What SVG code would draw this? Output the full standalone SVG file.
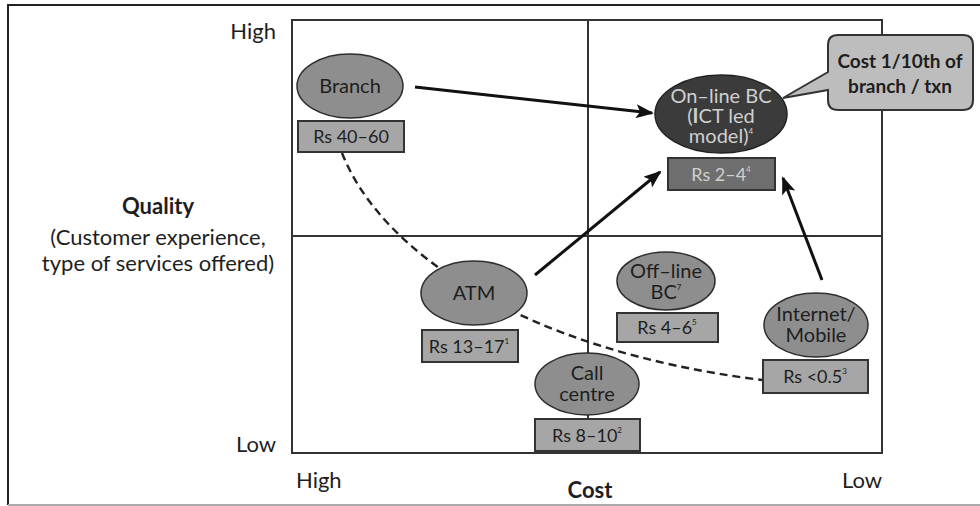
<svg xmlns="http://www.w3.org/2000/svg" width="980" height="506" viewBox="0 0 980 506">
<style>
text{font-family:Lato,"Open Sans","Liberation Sans",sans-serif;fill:#1e1e1e}
.ax{font-size:22px}
.b{font-weight:bold}
.nd{font-size:20px;text-anchor:middle}
.bx{font-size:18px;text-anchor:middle}
.el{fill:#8e8e8e;stroke:#2e2e2e;stroke-width:1.5}
.rb{fill:#a6a6a6;stroke:#333;stroke-width:2}
.sup{font-size:8px}
.ln{stroke:#333;stroke-width:2;fill:none}
.arr{stroke:#111;stroke-width:3;fill:none;marker-end:url(#ah)}
.lt{fill:#cfcfcf}
</style>
<defs>
<marker id="ah" markerUnits="userSpaceOnUse" markerWidth="18" markerHeight="14" refX="16" refY="7" orient="auto">
<path d="M0,0 L18,7 L0,14 L4,7 Z" fill="#111"/>
</marker>
</defs>
<rect width="980" height="506" fill="#fff"/>
<path d="M8,505 V5 H980" fill="none" stroke="#222" stroke-width="2"/>
<path d="M8,505 H980" fill="none" stroke="#aaa" stroke-width="2"/>

<g id="axes">
<rect x="292" y="20" width="590" height="433" class="ln" stroke-width="2.5"/>
<line x1="292" y1="236" x2="882" y2="236" class="ln"/>
<line x1="588" y1="20" x2="588" y2="453" class="ln"/>
<text class="ax" x="276" y="39" text-anchor="end">High</text>
<text class="ax" x="276" y="452" text-anchor="end">Low</text>
<text class="ax" text-anchor="middle"><tspan class="b" x="158" y="214">Quality</tspan><tspan x="158" y="245">(Customer experience,</tspan><tspan x="158" y="271">type of services offered)</tspan></text>
<text class="ax" x="296" y="488">High</text>
<text class="ax b" x="590" y="498" text-anchor="middle">Cost</text>
<text class="ax" x="882" y="488" text-anchor="end">Low</text>
</g>

<g id="connectors">
<path d="M342,153 C380,250 520,350 762,380" fill="none" stroke="#222" stroke-width="2.4" stroke-dasharray="8,5"/>
<line x1="415" y1="87" x2="652" y2="113" class="arr"/>
<line x1="535" y1="275" x2="660" y2="172" class="arr"/>
<line x1="822" y1="280" x2="783" y2="178" class="arr"/>
</g>

<g id="branch">
<ellipse cx="350" cy="86" rx="53" ry="32" class="el"/>
<text class="nd" x="350" y="93">Branch</text>
<rect x="298" y="121" width="106" height="31" class="rb"/>
<text class="bx" x="351" y="143">Rs 40–60</text>
</g>

<g id="online-bc">
<ellipse cx="721" cy="114" rx="66" ry="39" fill="#3b3b3b" stroke="#222" stroke-width="1.5"/>
<text class="nd lt" font-size="19"><tspan x="721" y="103">On–line BC</tspan><tspan x="721" y="123">(<tspan font-weight="bold">I</tspan>CT led</tspan><tspan x="721" y="143">model)<tspan class="sup" dy="-9">4</tspan></tspan></text>
<rect x="668" y="158" width="107" height="32" fill="#6e6e6e" stroke="#333" stroke-width="2"/>
<text class="bx lt" x="721" y="181" fill="#c4c4c4">Rs 2–4<tspan class="sup" dy="-9">4</tspan></text>
</g>

<g id="callout">
<path d="M838,35 H963 Q973,35 973,45 V100 Q973,110 963,110 H838 Q828,110 828,100 V90 L783,98 L828,72 V45 Q828,35 838,35 Z" fill="#bdbdbd" stroke="#333" stroke-width="2"/>
<text class="b" font-size="19" text-anchor="middle"><tspan x="900" y="68">Cost 1/10th of</tspan><tspan x="900" y="93">branch / txn</tspan></text>
</g>

<g id="atm">
<ellipse cx="474" cy="293" rx="53" ry="32" class="el"/>
<text class="nd" x="474" y="300">ATM</text>
<rect x="422" y="330" width="96" height="32" class="rb"/>
<text class="bx" x="469" y="353">Rs 13–17<tspan class="sup" dy="-9">1</tspan></text>
</g>

<g id="offline-bc">
<ellipse cx="666" cy="281" rx="49" ry="29" class="el"/>
<text class="nd"><tspan x="666" y="278">Off–line</tspan><tspan x="666" y="299">BC<tspan class="sup" dy="-9">7</tspan></tspan></text>
<rect x="617" y="313" width="101" height="29" class="rb"/>
<text class="bx" x="667" y="334">Rs 4–6<tspan class="sup" dy="-9">5</tspan></text>
</g>

<g id="call-centre">
<ellipse cx="587" cy="384" rx="52" ry="31" class="el"/>
<text class="nd"><tspan x="587" y="380">Call</tspan><tspan x="587" y="401">centre</tspan></text>
<rect x="535" y="419" width="105" height="32" class="rb"/>
<text class="bx" x="587" y="442">Rs 8–10<tspan class="sup" dy="-9">2</tspan></text>
</g>

<g id="internet-mobile">
<ellipse cx="816" cy="325" rx="52" ry="32" class="el"/>
<text class="nd"><tspan x="816" y="321">Internet/</tspan><tspan x="816" y="342">Mobile</tspan></text>
<rect x="763" y="360" width="105" height="33" class="rb"/>
<text class="bx" x="815" y="383">Rs &lt;0.5<tspan class="sup" dy="-9">3</tspan></text>
</g>
</svg>
